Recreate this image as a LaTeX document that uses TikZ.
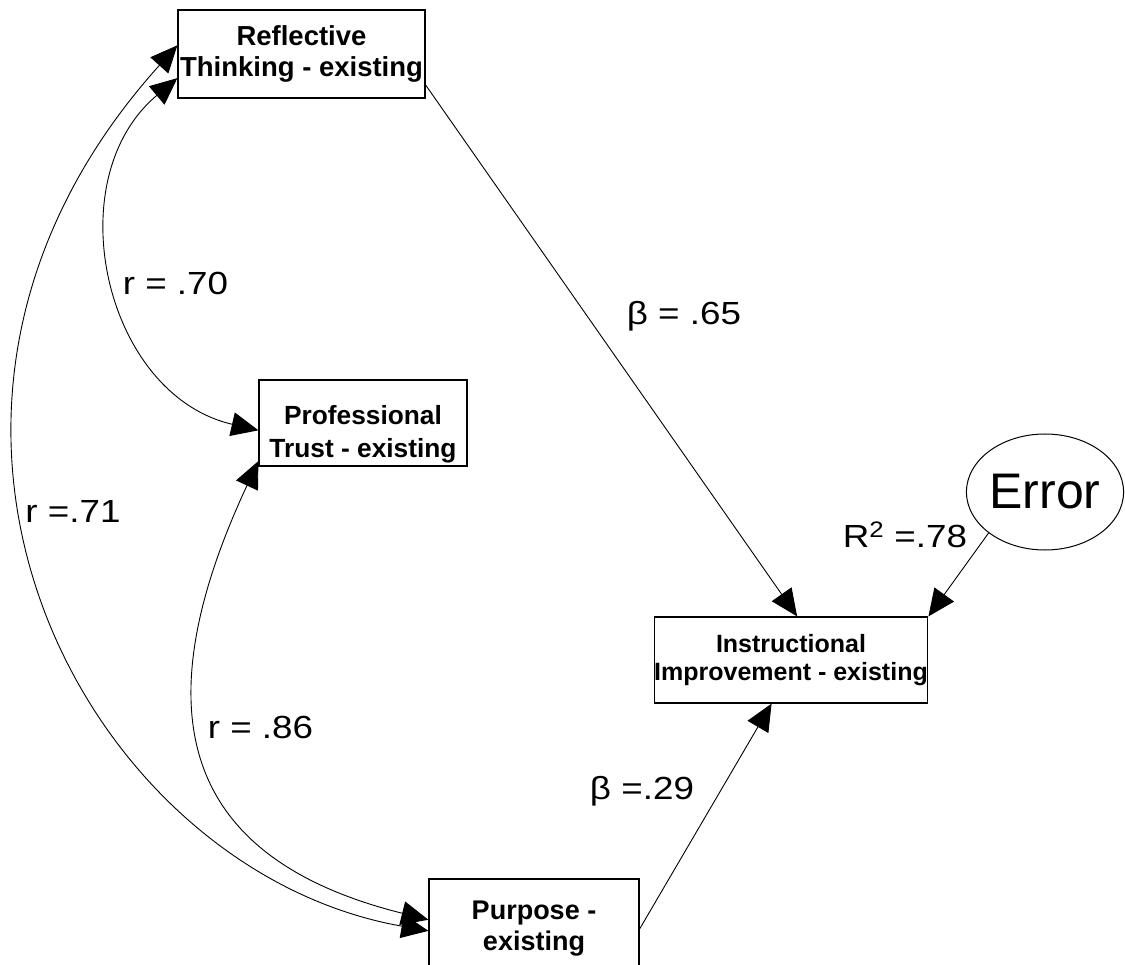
\documentclass[tikz,border=0pt]{standalone}
\usepackage{fontspec}
\setmainfont{Liberation Sans}
\newfontfamily\labfont[FakeStretch=1.15]{Liberation Sans}
\usetikzlibrary{arrows.meta,shapes.geometric}

\begin{document}
\begin{tikzpicture}[x=1pt,y=1pt,
  var/.style={draw, line width=1.2pt, inner sep=0pt, align=center, font=\fontsize{25}{30}\selectfont\bfseries},
  lab/.style={anchor=base, font=\labfont\fontsize{32}{38}\selectfont},
  effect/.style={line width=0.9pt, -{Triangle[length=27pt,width=24pt]}},
  corr/.style={line width=0.9pt, {Triangle[length=27pt,width=24pt]}-{Triangle[length=27pt,width=24pt]}}]
\useasboundingbox (0,0) rectangle (1125,-965);

% variables
\node[var, minimum width=247pt, minimum height=88pt, font=\fontsize{27.5}{31}\selectfont\bfseries] (refl) at (301.5,-54) {Reflective\\Thinking - existing};
\node[var, minimum width=208pt, minimum height=86pt] (prof) at (363,-423) {};
\node[var, draw=none, yshift=-11pt, font=\fontsize{26.3}{33}\selectfont\bfseries] (proftext) at (prof) {Professional\\Trust - existing};
\node[var, minimum width=210pt, minimum height=100pt, font=\fontsize{27}{31}\selectfont\bfseries] (purp) at (534,-929) {Purpose -\\existing};
\node[var, minimum width=270pt, minimum height=86pt, font=\fontsize{25}{28}\selectfont\bfseries] (instr) at (791,-660) {Instructional\\Improvement - existing};
\node[draw, ellipse, line width=1pt, minimum width=154pt, minimum height=116pt, inner sep=0pt, font=\fontsize{50}{60}\selectfont] (err) at (1045,-492) {Error};

% paths
\draw[effect] (refl.-14) -- (instr.82);
\draw[effect] (err.-144) -- (instr.north east);
\draw[effect] (purp.east) -- (instr.-114);

% correlations
\draw[corr] (refl.191) to[out=220,in=167,distance=158pt] (prof.184);
\draw[corr] (refl.176) to[out=228,in=170,out distance=500pt,in distance=350pt] (purp.181);
\draw[corr] (prof.200) to[out=245,in=166,distance=265pt] (purp.175);

% coefficients
\node[lab] (r1) at (175.5,-295) {r = .70};
\node[lab] (r2) at (73,-522) {r =.71};
\node[lab] (r3) at (260.5,-738) {r = .86};
\node[lab] (b1) at (684,-325) {β = .65};
\node[lab] (b2) at (642,-799) {β =.29};
\node[lab] (rsq) at (905,-547) {R\textsuperscript{2} =.78};
\end{tikzpicture}
\end{document}
